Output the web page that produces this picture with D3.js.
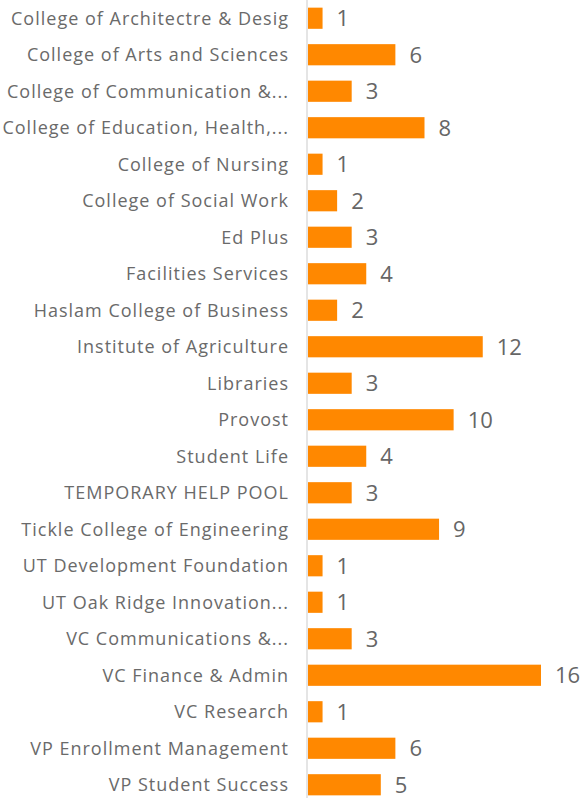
<!DOCTYPE html>
<html>
<head>
<meta charset="utf-8">
<script src="https://cdn.jsdelivr.net/npm/d3@7"></script>
<style>
  body { margin: 0; background: #fff; }
  text { font-family: "Open Sans", sans-serif; }
</style>
</head>
<body>
<div id="chart"></div>
<script>
// categories and counts
var categories = [
  "College of Architectre & Desig",
  "College of Arts and Sciences",
  "College of Communication &...",
  "College of Education, Health,...",
  "College of Nursing",
  "College of Social Work",
  "Ed Plus",
  "Facilities Services",
  "Haslam College of Business",
  "Institute of Agriculture",
  "Libraries",
  "Provost",
  "Student Life",
  "TEMPORARY HELP POOL",
  "Tickle College of Engineering",
  "UT Development Foundation",
  "UT Oak Ridge Innovation...",
  "VC Communications &...",
  "VC Finance & Admin",
  "VC Research",
  "VP Enrollment Management",
  "VP Student Success"
];
var counts = [1, 6, 3, 8, 1, 2, 3, 4, 2, 12, 3, 10, 4, 3, 9, 1, 1, 3, 16, 1, 6, 5];

var data = categories.map(function(c, i) { return { name: c, value: counts[i] }; });

var margin = { left: 307 };

var svg = d3.select("#chart")
    .append("svg")
    .attr("width", 582)
    .attr("height", 798)
    .append("g")
    .attr("transform", "translate(" + margin.left + ",0)");

var x = d3.scaleLinear().domain([0, 16]).range([1, 234]);
var y = d3.scaleBand().domain(categories).range([4, 799])
    .paddingInner(0.42).paddingOuter(0.1);

// vertical axis line
svg.append("line")
    .attr("x1", 0).attr("x2", 0)
    .attr("y1", 0).attr("y2", 798)
    .style("stroke", "#ddd")
    .style("stroke-width", 1.5);

svg.selectAll("rect.bar")
    .data(data)
    .enter()
    .append("rect")
    .attr("class", "bar")
    .attr("x", x(0))
    .attr("y", function(d) { return y(d.name); })
    .attr("width", function(d) { return x(d.value) - x(0); })
    .attr("height", y.bandwidth())
    .style("fill", "#ff8800");

// category labels
svg.selectAll("text.cat")
    .data(data)
    .enter()
    .append("text")
    .attr("class", "cat")
    .attr("x", -18)
    .attr("y", function(d) { return y(d.name) + y.bandwidth() / 2; })
    .attr("dy", "0.35em")
    .attr("text-anchor", "end")
    .style("font-size", "18px")
    .style("letter-spacing", "1px")
    .style("fill", "#6a6a6a")
    .text(function(d) { return d.name; });

// value labels
svg.selectAll("text.val")
    .data(data)
    .enter()
    .append("text")
    .attr("class", "val")
    .attr("x", function(d) { return x(d.value) + 14; })
    .attr("y", function(d) { return y(d.name) + y.bandwidth() / 2; })
    .attr("dy", "0.36em")
    .style("font-size", "22px")
    .style("fill", "#666")
    .text(function(d) { return d.value; });
</script>
</body>
</html>
